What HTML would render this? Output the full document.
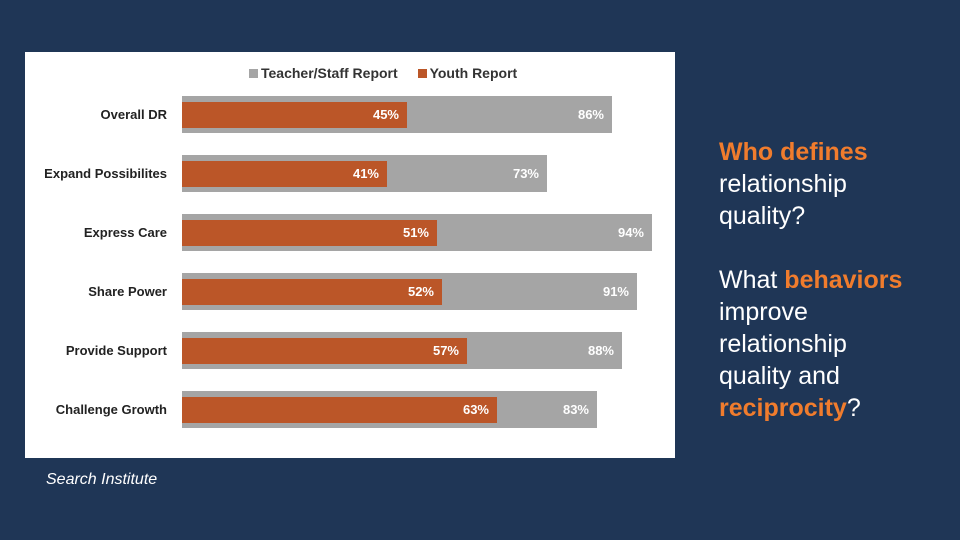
<!DOCTYPE html>
<html><head><meta charset="utf-8"><style>
body{margin:0;width:960px;height:540px;background:#1f3656;overflow:hidden;font-family:"Liberation Sans",sans-serif;position:relative}
#panel{position:absolute;left:25px;top:52px;width:650px;height:406px;background:#fff}
.lbl{position:absolute;right:508px;font-weight:bold;font-size:13px;color:#222;white-space:nowrap}
.bar{position:absolute}
.val{position:absolute;font-weight:bold;font-size:13px;color:#fff;text-align:right}
#side{position:absolute;left:719px;top:136px;color:#fff;font-size:25px;line-height:32px}
.o{color:#f07c2d;font-weight:bold}
#cap{position:absolute;left:46px;top:471px;color:#fff;font-style:italic;font-size:16px}
</style></head><body>
<div id="panel">
 <div style="position:absolute;left:224px;top:13px;font-size:14px;font-weight:bold;color:#333;white-space:nowrap">
  <span><span style="display:inline-block;width:9px;height:9px;background:#a5a5a5;margin-right:3px"></span>Teacher/Staff Report</span>
  <span style="margin-left:16px"><span style="display:inline-block;width:9px;height:9px;background:#bb5628;margin-right:3px"></span>Youth Report</span>
 </div>
 <div id="plot"></div>
</div>
<div id="side">
<span class="o">Who defines</span><br>relationship<br>quality?<br><br>What <span class="o">behaviors</span><br>improve<br>relationship<br>quality and<br><span class="o">reciprocity</span>?
</div>
<div id="cap">Search Institute</div>
<script>
const categories=["Overall DR","Expand Possibilites","Express Care","Share Power","Provide Support","Challenge Growth"];
const teacher=[86,73,94,91,88,83];
const youth=[45,41,51,52,57,63];
const x0=157, pxPer=5, rowTop=44, rowStep=59;
const plot=document.getElementById('plot');
function xs(v){return v*pxPer;}
categories.forEach((c,i)=>{
  const y=rowTop+i*rowStep;
  const l=document.createElement('div');l.className='lbl';l.textContent=c;l.style.top=(y+11)+'px';
  
  
  plot.appendChild(l);
  const g=document.createElement('div');g.className='bar';
  g.style.cssText=`left:${x0}px;top:${y}px;width:${xs(teacher[i])}px;height:37px;background:#a5a5a5`;
  
  
  plot.appendChild(g);
  const o=document.createElement('div');o.className='bar';
  o.style.cssText=`left:${x0}px;top:${y+6}px;width:${xs(youth[i])}px;height:26px;background:#bb5628`;
  
  
  plot.appendChild(o);
  [[teacher[i],'value-teacher'],[youth[i],'value-youth']].forEach(([v,n])=>{
    const t=document.createElement('div');t.className='val';t.textContent=v+'%';
    t.style.cssText=`left:${x0+xs(v)-62}px;width:54px;top:${y+11}px`;
    
    
    plot.appendChild(t);
  });
});
</script>
</body></html>
